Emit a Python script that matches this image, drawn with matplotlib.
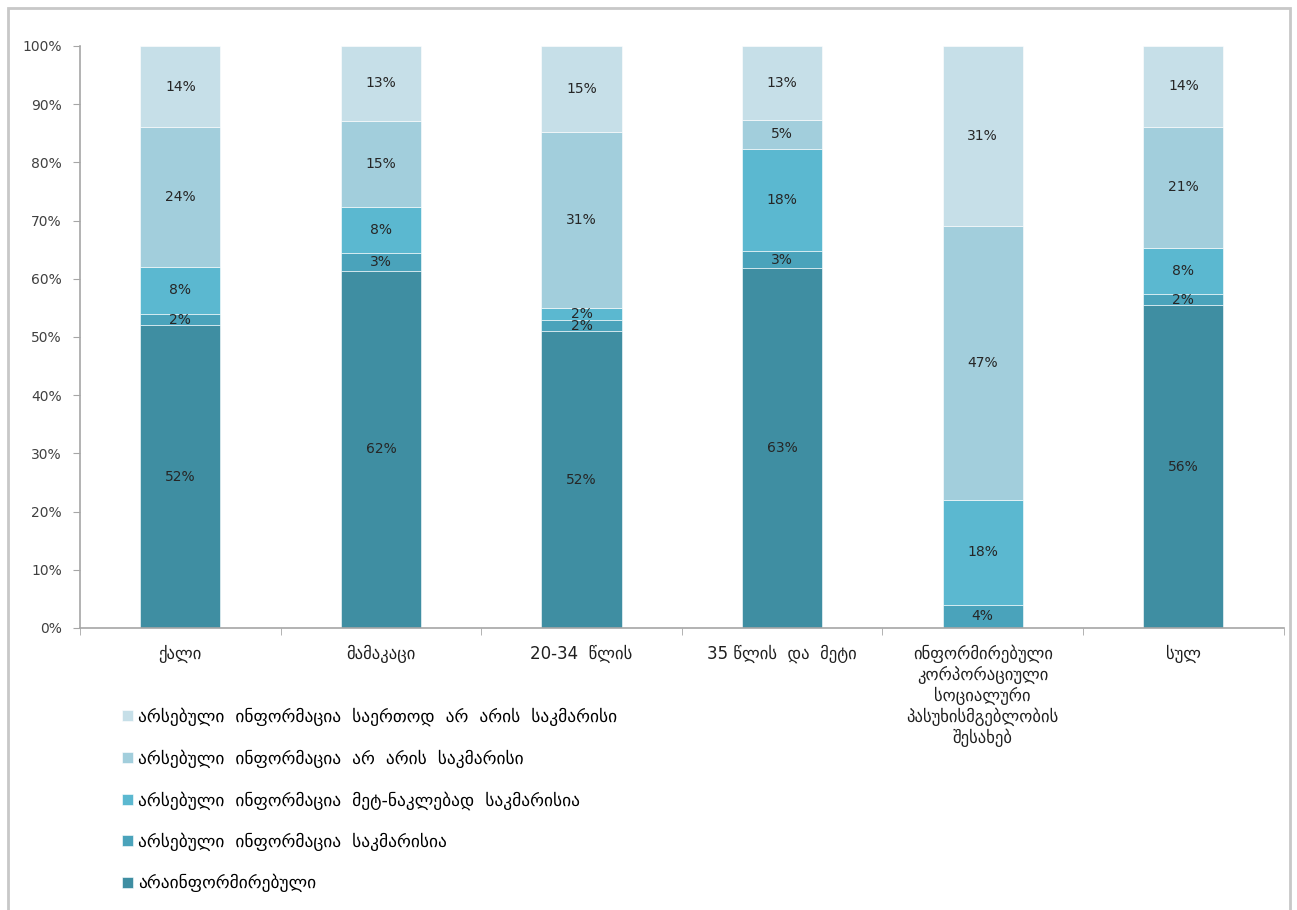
import matplotlib
matplotlib.use("Agg")
import matplotlib.pyplot as plt
import numpy as np
from matplotlib.patches import Rectangle

plt.rcParams['font.family'] = ['DejaVu Sans']

categories = ['ქალი', 'მამაკაცი', '20-34  წლის', '35 წლის  და  მეტი',
              'ინფორმირებული\nკორპორაციული\nსოციალური\nპასუხისმგებლობის\nშესახებ',
              'სულ']

series_names = ['არაინფორმირებული',
                'არსებული  ინფორმაცია  საკმარისია',
                'არსებული  ინფორმაცია  მეტ-ნაკლებად  საკმარისია',
                'არსებული  ინფორმაცია  არ  არის  საკმარისი',
                'არსებული  ინფორმაცია  საერთოდ  არ  არის  საკმარისი']

# percent labels as printed, per series (bottom to top)
uninformed   = [52, 62, 52, 63, 0, 56]
sufficient   = [2, 3, 2, 3, 4, 2]
more_or_less = [8, 8, 2, 18, 18, 8]
not_enough   = [24, 15, 31, 5, 47, 21]
not_at_all   = [14, 13, 15, 13, 31, 14]

colors = ['#3f8ea2', '#4aa3bb', '#5bb8d0', '#a2cedc', '#c6dfe8']

data = np.array([uninformed, sufficient, more_or_less, not_enough, not_at_all], dtype=float)
shares = data / data.sum(axis=0) * 100  # 100% stacked like the original

fig = plt.figure(figsize=(12.97, 9.10), dpi=100)
ax = fig.add_axes([0.0617, 0.3099, 0.928, 0.6396])

x = np.arange(len(categories))
bottom = np.zeros(len(categories))
handles = []
for i in range(len(series_names)):
    b = ax.bar(x, shares[i], 0.40, bottom=bottom, color=colors[i],
               edgecolor='white', linewidth=0.4, label=series_names[i])
    handles.append(b)
    for j in range(len(categories)):
        if data[i, j] > 0:
            ax.text(x[j], bottom[j] + shares[i, j] / 2, '%d%%' % data[i, j],
                    ha='center', va='center', fontsize=10, color='#262626')
    bottom += shares[i]

ax.set_xlim(-0.5, len(categories) - 0.5)
ax.set_ylim(0, 100)
ax.set_yticks(np.arange(0, 101, 10))
ax.set_yticklabels(['%d%%' % v for v in range(0, 101, 10)], fontsize=10, color='#404040')
ax.set_xticks(x)
ax.set_xticklabels(categories, fontsize=12, color='#202020', linespacing=1.2, va='top')
ax.set_xticks(np.arange(-0.5, len(categories)), minor=True)
ax.tick_params(axis='x', which='major', length=0, pad=12)
ax.tick_params(axis='x', which='minor', length=5, color='#a6a6a6')
ax.tick_params(axis='y', length=5, color='#a6a6a6', pad=8)
for s in ['top', 'right']:
    ax.spines[s].set_visible(False)
for s in ['left', 'bottom']:
    ax.spines[s].set_color('#a6a6a6')
    ax.spines[s].set_linewidth(1.2)

fig.legend(handles[::-1], series_names[::-1], loc='upper left',
           bbox_to_anchor=(0.089, 0.23), frameon=False, fontsize=12.5,
           handlelength=0.6, handleheight=0.6, handletextpad=0.3,
           labelspacing=1.33, borderaxespad=0)

fig.patches.append(Rectangle((8 / 1297, -0.02), 1282 / 1297, 1.02 - 8 / 910,
                             transform=fig.transFigure, fill=False,
                             edgecolor='#c8c8c8', linewidth=2))

fig.savefig('out.png', dpi=100)
